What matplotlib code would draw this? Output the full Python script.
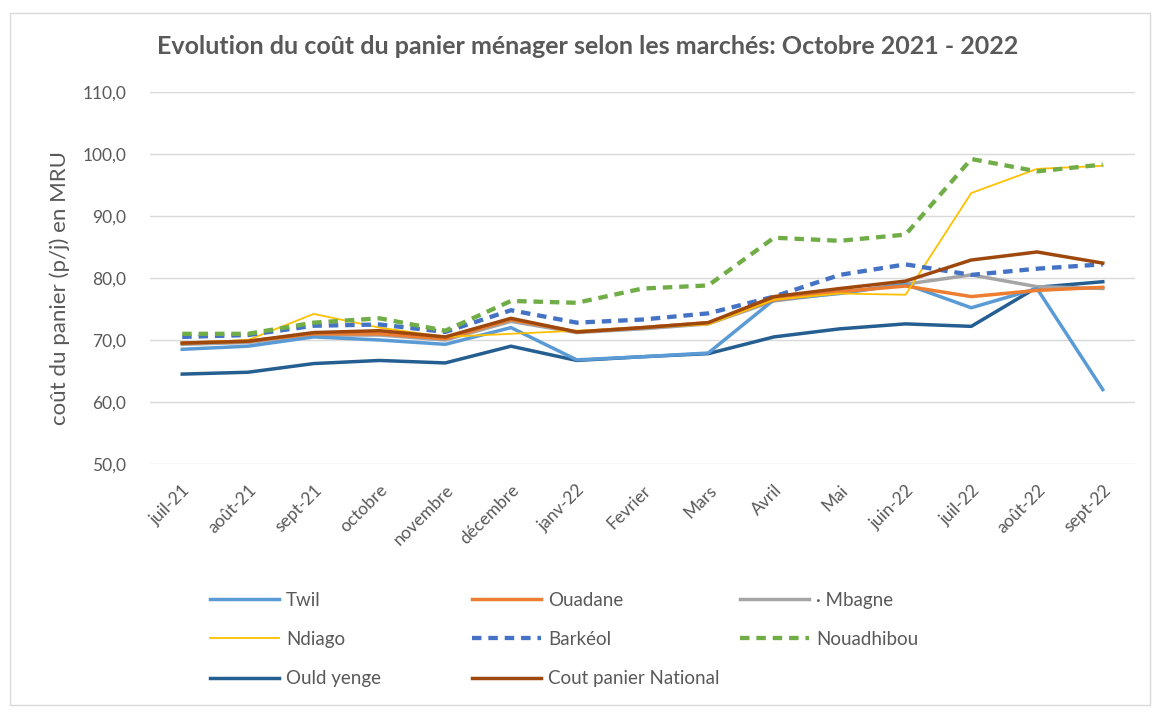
import matplotlib.pyplot as plt
from matplotlib.patches import Rectangle

plt.rcParams['font.family'] = ['Lato', 'DejaVu Sans']

months = ['juil-21', 'août-21', 'sept-21', 'octobre', 'novembre', 'décembre',
          'janv-22', 'Fevrier', 'Mars', 'Avril', 'Mai', 'juin-22', 'juil-22',
          'août-22', 'sept-22']

twil = [68.5, 69.0, 70.5, 70.0, 69.3, 72.0, 66.8, 67.3, 67.9, 76.5, 77.5, 79.0, 75.2, 78.3, 62.0]
ouadane = [69.5, 69.8, 71.0, 71.0, 70.2, 73.3, 71.3, 72.0, 72.8, 76.5, 77.8, 78.7, 77.0, 78.0, 78.5]
mbagne = [69.3, 69.6, 70.8, 70.8, 70.0, 73.0, 71.2, 71.8, 72.6, 76.3, 77.6, 79.0, 80.5, 78.6, 78.3]
ndiago = [69.5, 70.0, 74.2, 72.0, 70.5, 71.0, 71.5, 72.0, 72.5, 76.5, 77.5, 77.3, 93.7, 97.6, 98.1]
barkeol = [70.5, 70.8, 72.3, 72.5, 71.3, 74.8, 72.8, 73.3, 74.3, 77.0, 80.5, 82.2, 80.5, 81.5, 82.2]
nouadhibou = [71.0, 71.0, 72.8, 73.5, 71.5, 76.3, 76.0, 78.3, 78.8, 86.5, 86.0, 87.0, 99.2, 97.2, 98.3]
ould_yenge = [64.5, 64.8, 66.2, 66.7, 66.3, 69.0, 66.7, 67.3, 67.8, 70.5, 71.8, 72.6, 72.2, 78.5, 79.4]
national = [69.5, 69.8, 71.2, 71.5, 70.5, 73.5, 71.3, 72.0, 72.8, 77.0, 78.3, 79.5, 82.9, 84.2, 82.4]

W, H = 1157, 713
fig = plt.figure(figsize=(W / 100, H / 100), dpi=100)
fig.patches.append(Rectangle((10 / W, 8 / H), 1140 / W, 692 / H,
                             transform=fig.transFigure, fill=False,
                             edgecolor='#D9D9D9', linewidth=1))

ax = fig.add_axes([150 / W, 1 - 464 / H, 985 / W, 372 / H])
x = range(len(months))

lw = 2.5
dash = (0, (2.2, 1.6))
ax.plot(x, ould_yenge, color='#255E91', lw=lw, label='Ould yenge', zorder=3)
ax.plot(x, twil, color='#5B9BD5', lw=lw, label='Twil', zorder=4)
ax.plot(x, mbagne, color='#A5A5A5', lw=lw, label='· Mbagne', zorder=3)
ax.plot(x, ouadane, color='#ED7D31', lw=lw, label='Ouadane', zorder=4)
ax.plot(x, ndiago, color='#FFC000', lw=1.3, label='Ndiago', zorder=5)
ax.plot(x, barkeol, color='#4472C4', lw=lw + 0.6, ls=dash, label='Barkéol', zorder=5)
ax.plot(x, nouadhibou, color='#70AD47', lw=lw + 0.6, ls=dash, label='Nouadhibou', zorder=5)
ax.plot(x, national, color='#9E480E', lw=lw, label='Cout panier National', zorder=6)

ax.set_ylim(50, 110)
ax.set_xlim(-0.49, 14.49)
ax.set_yticks(range(50, 111, 10))
ax.set_yticklabels([f'{v},0' for v in range(50, 111, 10)])
ax.set_xticks(list(x))
ax.set_xticklabels(months, rotation=45, ha='right', rotation_mode='anchor')
ax.grid(axis='y', color='#D9D9D9', lw=1)
ax.set_axisbelow(True)
for s in ax.spines.values():
    s.set_visible(False)
ax.tick_params(length=0, colors='#595959')
ax.tick_params(axis='y', pad=17, labelsize=12.5)
ax.tick_params(axis='x', pad=13, labelsize=12.5)

fig.text(60 / W, 1 - 288 / H, 'coût du panier (p/j) en MRU', rotation=90,
         ha='center', va='center', color='#595959', fontsize=16)
fig.text(588 / W, 1 - 47 / H,
         'Evolution du coût du panier ménager selon les marchés: Octobre 2021 - 2022',
         ha='center', va='center', fontsize=18, fontweight='bold', color='#595959')

# legend laid out in three fixed-width columns like the source
handles, labels = ax.get_legend_handles_labels()
hmap = dict(zip(labels, handles))
columns = [(200, ['Twil', 'Ndiago', 'Ould yenge']),
           (462, ['Ouadane', 'Barkéol', 'Cout panier National']),
           (730, ['· Mbagne', 'Nouadhibou'])]
for xpos, names in columns:
    leg = fig.legend([hmap[k] for k in names], names, frameon=False,
                     loc='upper left', bbox_to_anchor=((xpos - 7) / W, 1 - 575 / H),
                     fontsize=13.5, labelcolor='#595959', handlelength=3.7,
                     handletextpad=0.35, labelspacing=1.18)

fig.savefig('out.png', dpi=100)
